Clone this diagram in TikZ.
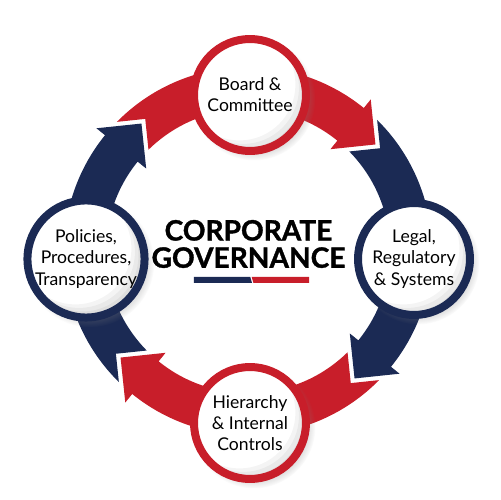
\documentclass[tikz,border=0pt]{standalone}
\usepackage{fontspec}
\setmainfont{Lato}
\newfontfamily\titlefont{Lato}[BoldFeatures={FakeBold=1.2}]
\usepackage{xcolor}
\usetikzlibrary{calc, shadows}
\definecolor{cgred}{RGB}{200,30,42}
\definecolor{cgblue}{RGB}{27,42,84}

\begin{document}
\begin{tikzpicture}[x=0.02cm, y=0.02cm,
  stage/.style={circle, fill=white, line width=0.16cm, minimum size=2.24cm, inner sep=0pt,
    align=center, font=\fontsize{10}{12}\selectfont,
    circular drop shadow={shadow xshift=2pt, shadow yshift=-2pt, opacity=0.3},
    path picture={
      \foreach \s in {2,4,6}
        \fill[black, opacity=0.045, even odd rule] (path picture bounding box.center) circle (1.12cm)
          ($(path picture bounding box.center)+(-\s pt,\s pt)$) circle (1.12cm);
    }}]
  \useasboundingbox (-248,-249) rectangle (252,251);
  \coordinate (O) at (0,0);
  \foreach \ang/\col in {0/cgred, -90/cgblue, -180/cgred, -270/cgblue}{
    \begin{scope}[shift={(O)}, rotate=\ang]
      \fill[\col] ($(141:163)+(51:38)$) -- (135.43:184)
        arc[start angle=135.43, end angle=51, radius=184]
        -- (51:195) -- ($(51:163)+(-39:32)$) -- (51:131) -- (51:142)
        arc[start angle=51, end angle=134.5, radius=142] -- cycle;
    \end{scope}
  }
  \node[stage, draw=cgred] (A) at (2,156) {Board \&\\Committee};
  \node[stage, draw=cgblue] (B) at (166,-8) {Legal,\\Regulatory\\\& Systems};
  \node[stage, draw=cgred] (C) at (2,-172) {Hierarchy\\\& Internal\\Controls};
  \node[stage, draw=cgblue] (D) at (-162,-8) {Policies,\\Procedures,\\Transparency};
  \node[font=\titlefont\bfseries\fontsize{16}{15.5}\selectfont, align=center] (G) at (0.5,7) {CORPORATE\\GOVERNANCE};
  \fill[cgblue] (-54,-26) -- (2.3,-26) -- (4,-32) -- (-54,-32) -- cycle;
  \fill[cgred] (3.7,-26) -- (61,-26) -- (61,-32) -- (5.4,-32) -- cycle;
\end{tikzpicture}
\end{document}
